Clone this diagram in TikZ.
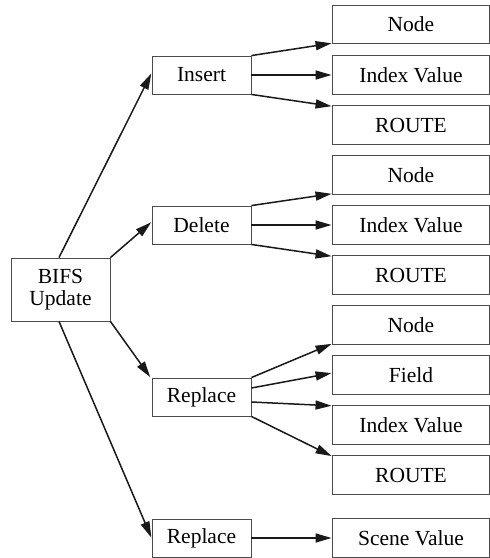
\documentclass[tikz,border=0pt]{standalone}
\usepackage{fontspec}
\setmainfont{Liberation Serif}
\usetikzlibrary{arrows.meta}
\begin{document}
\begin{tikzpicture}[x=1pt,y=-1pt,
  box/.style={draw=black!70, line width=0.9pt, rectangle, inner sep=0pt,
    font=\fontsize{21.5}{22.5}\selectfont, align=center, text=black},
  opbox/.style={box, minimum width=99pt, minimum height=38pt},
  leafbox/.style={box, minimum width=157pt, minimum height=38.5pt},
  link/.style={draw=black!90, line width=1.5pt,
    -{Triangle[length=16pt,width=9pt]}, shorten >=0.5pt}]
\useasboundingbox (0,0) rectangle (490,558);

% root
\node[box, minimum width=99pt, minimum height=63pt] (root) at (60.5,289.5) {BIFS\\Update};

% operations
\node[opbox] (ins) at (201.5,75) {Insert};
\node[opbox] (del) at (201.5,225) {Delete};
\node[opbox] (repA) at (201.5,397) {Replace};
\node[opbox] (repB) at (201.5,538) {Replace};

% targets
\node[leafbox] (insNode)  at (411,24.5) {Node};
\node[leafbox] (insIdx)   at (411,75)   {Index Value};
\node[leafbox] (insRoute) at (411,125)  {ROUTE};
\node[leafbox] (delNode)  at (411,175)  {Node};
\node[leafbox] (delIdx)   at (411,225)  {Index Value};
\node[leafbox] (delRoute) at (411,275)  {ROUTE};
\node[leafbox] (repNode)  at (411,325)  {Node};
\node[leafbox] (repField) at (411,375)  {Field};
\node[leafbox] (repIdx)   at (411,425)  {Index Value};
\node[leafbox] (repRoute) at (411,475)  {ROUTE};
\node[leafbox] (scene)    at (411,538)  {Scene Value};

% root to operations
\draw[link] ([xshift=-1.5pt]root.north) -- ([yshift=2pt]ins.west);
\draw[link] (root.north east) -- ([yshift=3pt]del.west);
\draw[link] (root.south east) -- ([xshift=-1pt]repA.north west);
\draw[link] ([xshift=-1.5pt]root.south) -- (repB.west);

% insert
\draw[link] (ins.north east) -- ([yshift=1pt]insNode.south west);
\draw[link] (ins.east) -- (insIdx.west);
\draw[link] (ins.south east) -- ([yshift=-1pt]insRoute.north west);

% delete
\draw[link] (del.north east) -- ([yshift=1pt]delNode.south west);
\draw[link] (del.east) -- (delIdx.west);
\draw[link] (del.south east) -- ([yshift=-1pt]delRoute.north west);

% replace (node, field, index, route)
\draw[link] (repA.north east) -- ([yshift=1pt]repNode.south west);
\draw[link] ([yshift=9pt]repA.east) -- ([yshift=2pt]repField.west);
\draw[link] ([yshift=-5pt]repA.east) -- ([yshift=-0.5pt]repIdx.north west);
\draw[link] (repA.south east) -- ([yshift=-1pt]repRoute.north west);

% replace scene
\draw[link] (repB.east) -- (scene.west);
\end{tikzpicture}
\end{document}
